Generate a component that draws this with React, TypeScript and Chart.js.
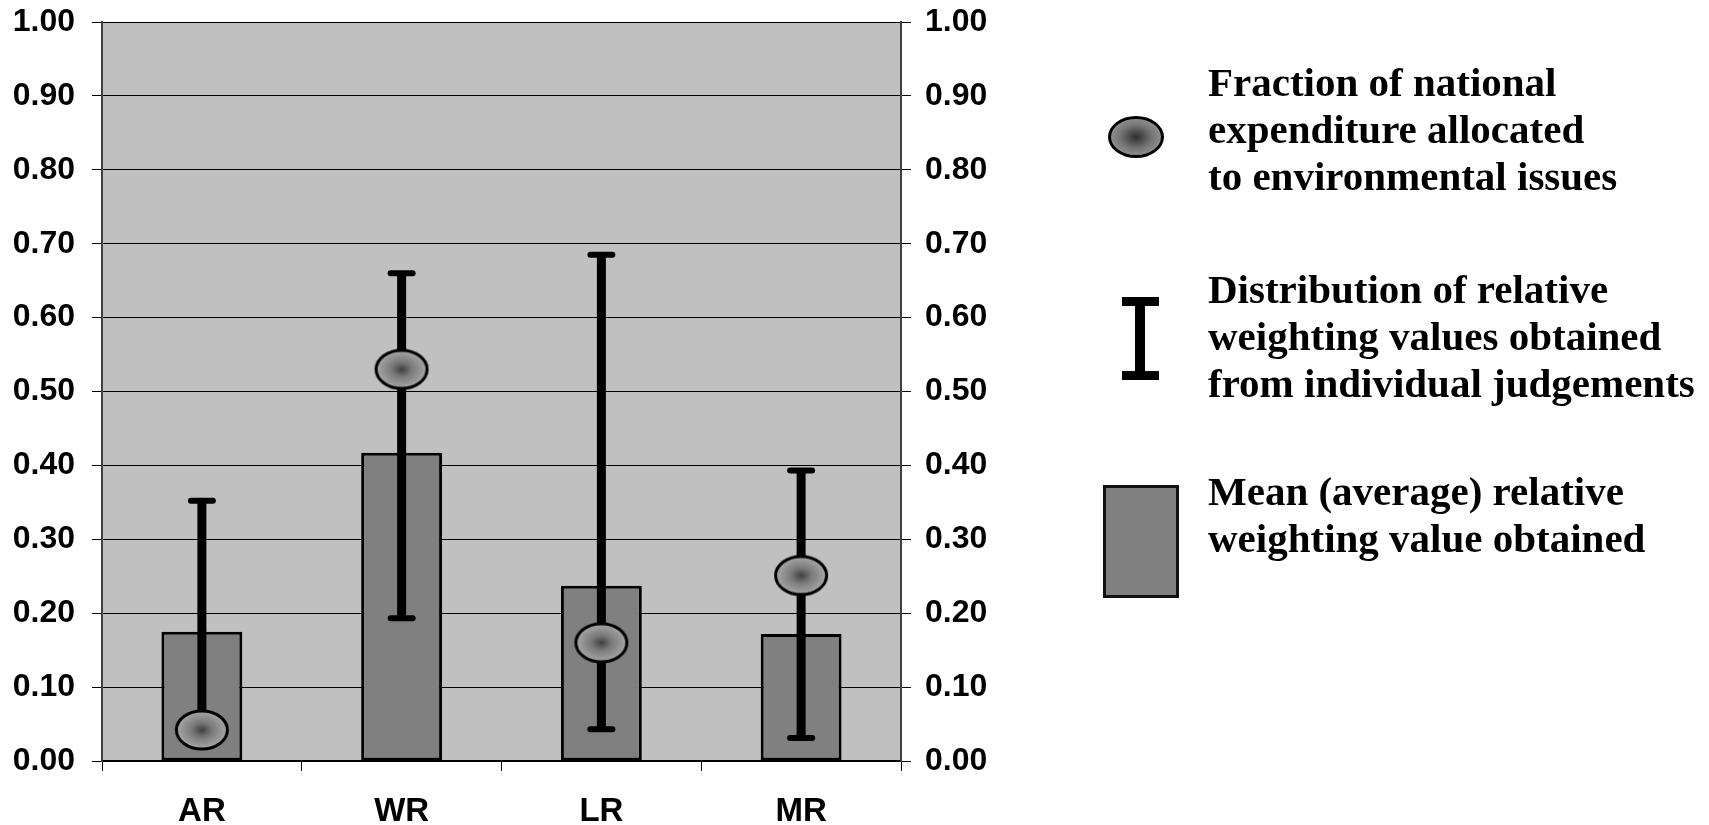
import React, { useEffect, useRef } from 'react';
import { Chart, registerables } from 'chart.js';

Chart.register(...registerables);

const categories = ['AR', 'WR', 'LR', 'MR'];
const meanWeighting = [0.175, 0.417, 0.237, 0.172];
const rangeLow = [0.04, 0.193, 0.043, 0.031];
const rangeHigh = [0.352, 0.66, 0.685, 0.393];
const expenditureFraction = [0.042, 0.53, 0.16, 0.251];

const legendFraction = ['Fraction of national', 'expenditure allocated', 'to environmental issues'];
const legendDistribution = ['Distribution of relative', 'weighting values obtained', 'from individual judgements'];
const legendMean = ['Mean (average) relative', 'weighting value obtained'];

const AXIS_FONT = { family: '"Liberation Sans", Arial, sans-serif', size: 32, weight: 'bold' as const };

function makeEllipse(): HTMLCanvasElement {
  const w = 58;
  const h = 44;
  const c = document.createElement('canvas');
  c.width = w;
  c.height = h;
  const ctx = c.getContext('2d')!;
  const rx = 25.5;
  const ry = 19;
  ctx.save();
  ctx.translate(w / 2, h / 2);
  ctx.scale(1, ry / rx);
  const g = ctx.createRadialGradient(0, 0, 0, 0, 0, rx);
  g.addColorStop(0, '#404040');
  g.addColorStop(0.4, '#7a7a7a');
  g.addColorStop(1, '#a8a8a8');
  ctx.beginPath();
  ctx.arc(0, 0, rx, 0, Math.PI * 2);
  ctx.fillStyle = g;
  ctx.fill();
  ctx.restore();
  ctx.beginPath();
  ctx.ellipse(w / 2, h / 2, rx, ry, 0, 0, Math.PI * 2);
  ctx.lineWidth = 3;
  ctx.strokeStyle = '#000';
  ctx.stroke();
  return c;
}

const plotBackground = {
  id: 'plotBackground',
  beforeDraw(chart: any) {
    const { ctx, chartArea } = chart;
    ctx.save();
    ctx.fillStyle = '#c0c0c0';
    ctx.fillRect(chartArea.left, chartArea.top, chartArea.right - chartArea.left, chartArea.bottom - chartArea.top);
    ctx.restore();
  },
};

const errorBars = {
  id: 'errorBars',
  afterDatasetDraw(chart: any, args: any) {
    if (args.index !== 0) return;
    const xs = chart.scales.x;
    const ys = chart.scales.y;
    const ctx = chart.ctx;
    ctx.save();
    ctx.strokeStyle = '#000';
    categories.forEach((_, i) => {
      const px = xs.getPixelForValue(i);
      const top = ys.getPixelForValue(rangeHigh[i]);
      const bot = ys.getPixelForValue(rangeLow[i]);
      ctx.lineWidth = 9;
      ctx.lineCap = 'butt';
      ctx.beginPath();
      ctx.moveTo(px, top);
      ctx.lineTo(px, bot);
      ctx.stroke();
      ctx.lineWidth = 6;
      ctx.lineCap = 'round';
      [top, bot].forEach((py) => {
        ctx.beginPath();
        ctx.moveTo(px - 11, py);
        ctx.lineTo(px + 11, py);
        ctx.stroke();
      });
    });
    ctx.restore();
  },
};

const legendText: React.CSSProperties = {
  position: 'absolute',
  left: 1208,
  fontFamily: '"Liberation Serif", "Times New Roman", serif',
  fontWeight: 'bold',
  fontSize: 41,
  lineHeight: '47px',
  color: '#000',
  whiteSpace: 'nowrap',
};

export default function App() {
  const ref = useRef<HTMLCanvasElement | null>(null);

  useEffect(() => {
    document.body.style.margin = '0';
    if (!ref.current) return;
    const ellipse = makeEllipse();
    const chart = new Chart(ref.current, {
      type: 'bar',
      data: {
        labels: categories,
        datasets: [
          {
            type: 'bar',
            label: 'Mean (average) relative weighting value obtained',
            data: meanWeighting,
            backgroundColor: '#808080',
            borderColor: '#000',
            borderWidth: 3,
            borderSkipped: false,
            barPercentage: 0.405,
            categoryPercentage: 1,
            order: 1,
            yAxisID: 'y',
          },
          {
            type: 'line',
            label: 'Fraction of national expenditure allocated to environmental issues',
            data: expenditureFraction,
            showLine: false,
            pointStyle: ellipse as any,
            pointRadius: 20,
            order: 0,
            yAxisID: 'y',
          },
        ],
      } as any,
      options: {
        responsive: false,
        maintainAspectRatio: false,
        animation: false,
        layout: { padding: { top: 22, left: 0, right: 0, bottom: 0 } },
        plugins: { legend: { display: false }, tooltip: { enabled: false } },
        scales: {
          x: {
            offset: true,
            grid: { offset: true, drawOnChartArea: false, tickLength: 10, color: '#000', lineWidth: 1 },
            border: { color: '#000', width: 2 },
            ticks: { font: { ...AXIS_FONT, size: 33 }, color: '#000', padding: 21 },
            afterFit: (s: any) => {
              s.height = 64;
              s.paddingLeft = 0;
              s.paddingRight = 0;
            },
          },
          y: {
            position: 'left',
            min: 0,
            max: 1,
            grid: { color: '#000', lineWidth: 1, tickLength: 10 },
            border: { color: '#404040', width: 2 },
            ticks: {
              stepSize: 0.1,
              font: AXIS_FONT,
              color: '#000',
              padding: 17,
              callback: (v: any) => Number(v).toFixed(2),
            },
            afterFit: (s: any) => {
              s.width = 102;
              s.paddingTop = 0;
              s.paddingBottom = 0;
            },
          },
          y2: {
            position: 'right',
            min: 0,
            max: 1,
            grid: { drawOnChartArea: false, color: '#000', lineWidth: 1, tickLength: 10 },
            border: { color: '#404040', width: 2 },
            ticks: {
              stepSize: 0.1,
              font: AXIS_FONT,
              color: '#000',
              padding: 14,
              callback: (v: any) => Number(v).toFixed(2),
            },
            afterFit: (s: any) => {
              s.width = 808;
              s.paddingTop = 0;
              s.paddingBottom = 0;
            },
          },
        },
      } as any,
      plugins: [plotBackground, errorBars],
    });
    return () => chart.destroy();
  }, []);

  return (
    <div style={{ position: 'relative', width: 1709, height: 825, background: '#fff', overflow: 'hidden' }}>
      <canvas ref={ref} width={1709} height={825} style={{ display: 'block' }} />
      <div
        style={{
          position: 'absolute',
          left: 1108,
          top: 116,
          width: 56,
          height: 42,
          boxSizing: 'border-box',
          border: '3px solid #000',
          borderRadius: '50%',
          background: 'radial-gradient(ellipse at center, #2e2e2e 0%, #747474 45%, #a8a8a8 100%)',
        }}
      />
      <div style={{ position: 'absolute', left: 1122, top: 297, width: 37, height: 9, background: '#000' }} />
      <div style={{ position: 'absolute', left: 1135, top: 297, width: 10, height: 83, background: '#000' }} />
      <div style={{ position: 'absolute', left: 1122, top: 371, width: 37, height: 9, background: '#000' }} />
      <div
        style={{
          position: 'absolute',
          left: 1103,
          top: 485,
          width: 76,
          height: 113,
          boxSizing: 'border-box',
          border: '3px solid #111',
          background: '#808080',
        }}
      />
      <div style={{ ...legendText, top: 59 }}>
        {legendFraction.map((t) => (
          <div key={t}>{t}</div>
        ))}
      </div>
      <div style={{ ...legendText, top: 266 }}>
        {legendDistribution.map((t) => (
          <div key={t}>{t}</div>
        ))}
      </div>
      <div style={{ ...legendText, top: 468 }}>
        {legendMean.map((t) => (
          <div key={t}>{t}</div>
        ))}
      </div>
    </div>
  );
}
